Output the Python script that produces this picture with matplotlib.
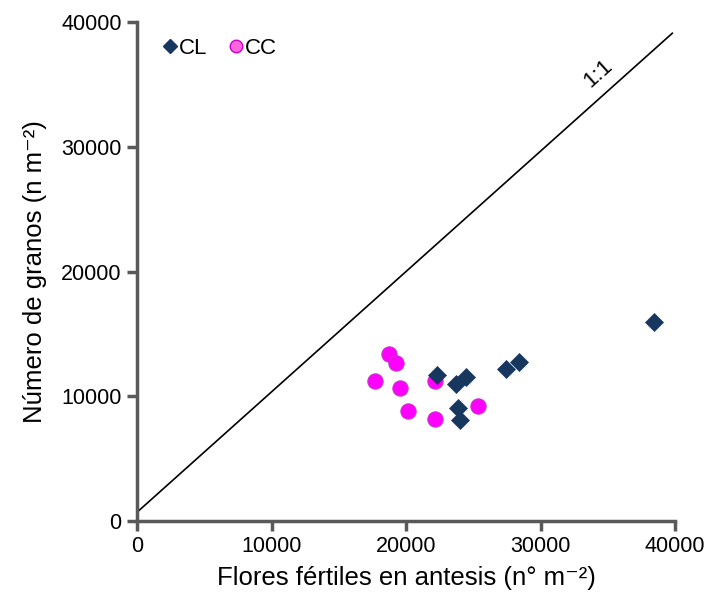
import matplotlib
matplotlib.use("Agg")
import matplotlib.pyplot as plt
from matplotlib.lines import Line2D

plt.rcParams['font.family'] = ['Liberation Sans', 'DejaVu Sans']

# Flores fértiles en antesis vs número de granos (n m-2)
cl_flores = [22330, 23740, 24460, 27460, 28420, 23870, 24020, 38460]
cl_granos = [11730, 10980, 11520, 12160, 12720, 9060, 8100, 15930]

cc_flores = [18760, 19260, 17720, 19550, 22160, 20150, 22130, 25380]
cc_granos = [13360, 12670, 11220, 10660, 11220, 8790, 8200, 9190]

# reference line labelled 1:1
ref_x = [0, 39800]
ref_y = [700, 39100]

x_ticks = [0, 10000, 20000, 30000, 40000]
y_ticks = [0, 10000, 20000, 30000, 40000]

fig = plt.figure(figsize=(7.10, 6.01), dpi=100)
ax = fig.add_axes([137/710, 1-521/601, (675-137)/710, (521-22)/601])

ax.plot(ref_x, ref_y, color='black', lw=1.2, zorder=2)
ax.text(34300, 35900, '1:1', rotation=41.8, fontsize=16,
        ha='center', va='center', rotation_mode='anchor')

ax.plot(cc_flores, cc_granos, linestyle='none', marker='o', markersize=11,
        markerfacecolor='#FF00FF', markeredgecolor='#CC33CC', markeredgewidth=0.8, zorder=3)
ax.plot(cl_flores, cl_granos, linestyle='none', marker='D', markersize=9.5,
        markerfacecolor='#17375E', markeredgecolor='#17375E', markeredgewidth=0.5, zorder=4)

ax.set_xlim(0, 40000)
ax.set_ylim(0, 40000)
ax.set_xticks(x_ticks)
ax.set_yticks(y_ticks)
ax.tick_params(direction='out', length=7, width=2.5, color='#595959', labelsize=15.5, pad=4)

for side in ('top', 'right'):
    ax.spines[side].set_visible(False)
for side in ('left', 'bottom'):
    ax.spines[side].set_color('#595959')
    ax.spines[side].set_linewidth(2.5)

ax.set_xlabel('Flores fértiles en antesis (n° m⁻²)', fontsize=18.5, labelpad=6)
ax.set_ylabel('Número de granos (n m⁻²)', fontsize=18.5, labelpad=10)

handles = [
    Line2D([], [], linestyle='none', marker='D', markersize=7,
           markerfacecolor='#17375E', markeredgecolor='#17375E'),
    Line2D([], [], linestyle='none', marker='o', markersize=9,
           markerfacecolor='#FF66DD', markeredgecolor='#CC00CC'),
]
ax.legend(handles, ['CL', 'CC'], loc='upper left', bbox_to_anchor=(0.02, 1.0),
          ncol=2, frameon=False, fontsize=16, handlelength=0.6, handletextpad=0.1,
          columnspacing=1.0, borderaxespad=0.3)

fig.savefig('out.png', dpi=100)
